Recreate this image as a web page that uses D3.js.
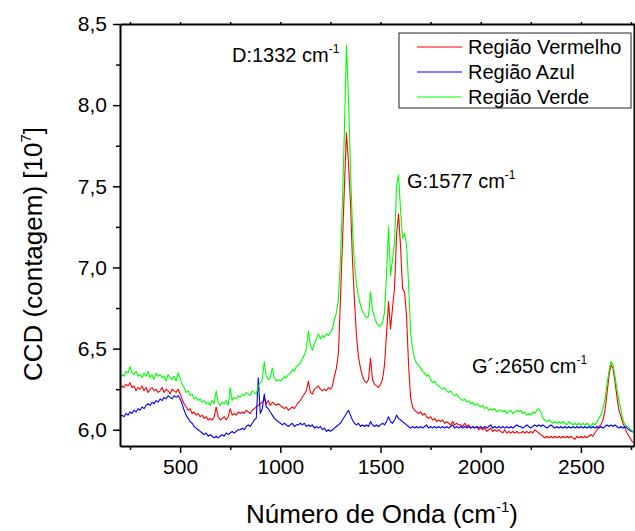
<!DOCTYPE html>
<html>
<head>
<meta charset="utf-8">
<script src="https://cdn.jsdelivr.net/npm/d3@7"></script>
<style>
  body { margin: 0; background: #fff; }
  svg { display: block; font-family: "Liberation Sans", Arial, sans-serif; }
</style>
</head>
<body>
<div id="viz"></div>
<script>
// Raman spectra, three regions of the sample (CCD counts in 10^7)

// sampling grid of the spectrometer, cm^-1 (200 .. 2760, step 10)
const wavenumbers = d3.range(200, 2770, 10);

// rows of 10 values = 100 cm^-1 each
const redValues = [
  6.25, 6.27, 6.26, 6.28, 6.27, 6.29, 6.26, 6.27, 6.24, 6.26,
  6.25, 6.27, 6.24, 6.26, 6.23, 6.25, 6.26, 6.24, 6.25, 6.23,
  6.24, 6.26, 6.23, 6.25, 6.24, 6.22, 6.25, 6.24, 6.23, 6.25,
  6.22, 6.19, 6.16, 6.14, 6.12, 6.13, 6.10, 6.11, 6.09, 6.10,
  6.08, 6.09, 6.07, 6.08, 6.06, 6.07, 6.06, 6.08, 6.14, 6.08,
  6.06, 6.07, 6.08, 6.06, 6.08, 6.13, 6.09, 6.10, 6.09, 6.11,
  6.10, 6.11, 6.10, 6.12, 6.11, 6.10, 6.12, 6.13, 6.14, 6.15,
  6.16, 6.17, 6.19, 6.16, 6.18, 6.15, 6.17, 6.16, 6.15, 6.16,
  6.15, 6.14, 6.13, 6.14, 6.12, 6.13, 6.14, 6.13, 6.15, 6.17,
  6.18, 6.20, 6.22, 6.24, 6.30, 6.23, 6.22, 6.25, 6.26, 6.27,
  6.25, 6.24, 6.25, 6.24, 6.26, 6.25, 6.27, 6.33, 6.38, 6.47,
  6.80, 7.15, 7.50, 7.83, 7.65, 7.40, 7.05, 6.80, 6.58, 6.45,
  6.38, 6.33, 6.30, 6.29, 6.31, 6.44, 6.31, 6.28, 6.27, 6.26,
  6.28, 6.31, 6.40, 6.59, 6.79, 6.62, 6.75, 6.87, 7.20, 7.33,
  7.13, 6.87, 6.85, 6.70, 6.40, 6.20, 6.14, 6.12, 6.11, 6.10,
  6.11, 6.09, 6.10, 6.08, 6.07, 6.08, 6.06, 6.07, 6.05, 6.06,
  6.05, 6.06, 6.04, 6.05, 6.04, 6.03, 6.05, 6.03, 6.04, 6.03,
  6.03, 6.02, 6.04, 6.02, 6.03, 6.01, 6.02, 6.01, 6.02, 6.00,
  6.01, 6.00, 6.01, 5.99, 6.00, 6.01, 5.99, 6.00, 5.99, 6.00,
  5.99, 5.98, 6.00, 5.98, 5.99, 5.98, 5.99, 5.98, 5.99, 5.98,
  5.98, 5.99, 5.98, 5.99, 5.98, 5.99, 5.98, 6.00, 5.99, 5.98,
  5.97, 5.96, 5.95, 5.96, 5.95, 5.96, 5.95, 5.96, 5.95, 5.96,
  5.95, 5.96, 5.95, 5.96, 5.95, 5.96, 5.95, 5.94, 5.96, 5.95,
  5.96, 5.95, 5.96, 5.95, 5.96, 5.97, 5.96, 5.98, 6.00, 6.02,
  6.03, 6.06, 6.12, 6.22, 6.33, 6.40, 6.38, 6.30, 6.20, 6.12,
  6.08, 6.04, 6.01, 5.98, 5.96, 5.94, 5.92
];

const blueValues = [
  6.08, 6.09, 6.08, 6.10, 6.09, 6.11, 6.10, 6.12, 6.11, 6.13,
  6.12, 6.14, 6.13, 6.15, 6.16, 6.15, 6.17, 6.16, 6.18, 6.17,
  6.19, 6.18, 6.20, 6.19, 6.21, 6.20, 6.19, 6.21, 6.20, 6.21,
  6.19, 6.16, 6.12, 6.09, 6.07, 6.05, 6.04, 6.02, 6.01, 6.00,
  5.99, 5.98, 5.97, 5.98, 5.96, 5.97, 5.96, 5.95, 5.96, 5.95,
  5.96, 5.97, 5.96, 5.98, 5.97, 5.98, 5.99, 5.98, 5.99, 6.00,
  6.00, 6.01, 6.00, 6.02, 6.03, 6.02, 6.04, 6.06, 6.07, 6.32,
  6.10, 6.13, 6.22, 6.14, 6.13, 6.11, 6.09, 6.07, 6.06, 6.05,
  6.04, 6.03, 6.04, 6.03, 6.02, 6.03, 6.04, 6.02, 6.03, 6.03,
  6.04, 6.03, 6.04, 6.02, 6.03, 6.02, 6.03, 6.01, 6.02, 6.01,
  6.02, 6.00, 6.01, 5.99, 6.00, 5.99, 6.00, 6.01, 6.02, 6.03,
  6.04, 6.06, 6.08, 6.10, 6.12, 6.09, 6.06, 6.04, 6.03, 6.04,
  6.02, 6.03, 6.02, 6.03, 6.02, 6.05, 6.03, 6.02, 6.03, 6.02,
  6.03, 6.04, 6.03, 6.05, 6.08, 6.05, 6.04, 6.06, 6.09, 6.07,
  6.06, 6.05, 6.04, 6.03, 6.02, 6.01, 6.02, 6.01, 6.02, 6.01,
  6.02, 6.01, 6.02, 6.03, 6.01, 6.02, 6.01, 6.02, 6.01, 6.02,
  6.01, 6.02, 6.01, 6.02, 6.01, 6.02, 6.03, 6.01, 6.02, 6.01,
  6.02, 6.01, 6.02, 6.01, 6.02, 6.01, 6.02, 6.01, 6.02, 6.01,
  6.02, 6.01, 6.02, 6.01, 6.02, 6.03, 6.01, 6.02, 6.01, 6.02,
  6.01, 6.02, 6.01, 6.02, 6.01, 6.02, 6.01, 6.02, 6.03, 6.02,
  6.02, 6.01, 6.02, 6.03, 6.02, 6.01, 6.02, 6.03, 6.02, 6.03,
  6.02, 6.03, 6.02, 6.01, 6.02, 6.03, 6.02, 6.01, 6.02, 6.01,
  6.02, 6.01, 6.02, 6.01, 6.02, 6.01, 6.02, 6.01, 6.02, 6.01,
  6.02, 6.01, 6.02, 6.01, 6.02, 6.01, 6.02, 6.01, 6.02, 6.01,
  6.02, 6.01, 6.02, 6.03, 6.02, 6.03, 6.02, 6.03, 6.02, 6.01,
  6.02, 6.01, 6.02, 6.01, 6.00, 5.99, 5.99
];

const greenValues = [
  6.31, 6.34, 6.33, 6.36, 6.35, 6.39, 6.35, 6.34, 6.36, 6.33,
  6.34, 6.32, 6.35, 6.33, 6.36, 6.32, 6.34, 6.31, 6.35, 6.33,
  6.34, 6.32, 6.33, 6.30, 6.34, 6.32, 6.31, 6.33, 6.30, 6.35,
  6.32, 6.28, 6.26, 6.23, 6.24, 6.21, 6.22, 6.19, 6.20, 6.18,
  6.19, 6.17, 6.18, 6.16, 6.17, 6.15, 6.18, 6.16, 6.24, 6.17,
  6.15, 6.17, 6.16, 6.18, 6.15, 6.26, 6.18, 6.20, 6.19, 6.21,
  6.20, 6.22, 6.21, 6.23, 6.22, 6.21, 6.24, 6.23, 6.22, 6.27,
  6.29, 6.31, 6.42, 6.33, 6.31, 6.32, 6.38, 6.32, 6.30, 6.31,
  6.30, 6.31, 6.33, 6.32, 6.34, 6.35, 6.37, 6.36, 6.39, 6.40,
  6.41, 6.44, 6.46, 6.50, 6.61, 6.52, 6.49, 6.53, 6.56, 6.59,
  6.56, 6.58, 6.57, 6.59, 6.58, 6.60, 6.62, 6.68, 6.72, 6.80,
  7.05, 7.40, 7.85, 8.37, 8.05, 7.62, 7.25, 7.02, 6.90, 6.82,
  6.77, 6.73, 6.71, 6.69, 6.70, 6.85, 6.74, 6.69, 6.66, 6.64,
  6.64, 6.66, 6.72, 6.95, 7.25, 6.95, 7.05, 7.15, 7.50, 7.57,
  7.35, 7.18, 7.21, 7.14, 6.90, 6.60, 6.50, 6.44, 6.41, 6.40,
  6.38, 6.36, 6.35, 6.33, 6.34, 6.31, 6.29, 6.30, 6.28, 6.27,
  6.26, 6.25, 6.26, 6.24, 6.23, 6.24, 6.22, 6.21, 6.22, 6.20,
  6.19, 6.18, 6.19, 6.17, 6.18, 6.16, 6.17, 6.15, 6.16, 6.15,
  6.14, 6.15, 6.13, 6.14, 6.12, 6.13, 6.12, 6.13, 6.11, 6.12,
  6.12, 6.11, 6.12, 6.10, 6.11, 6.12, 6.10, 6.11, 6.12, 6.11,
  6.12, 6.10, 6.11, 6.09, 6.10, 6.09, 6.11, 6.10, 6.12, 6.13,
  6.11, 6.07, 6.06, 6.05, 6.06, 6.05, 6.04, 6.05, 6.04, 6.05,
  6.04, 6.05, 6.04, 6.03, 6.05, 6.04, 6.03, 6.04, 6.03, 6.04,
  6.03, 6.04, 6.03, 6.04, 6.03, 6.02, 6.04, 6.03, 6.05, 6.07,
  6.09, 6.13, 6.19, 6.28, 6.36, 6.42, 6.40, 6.33, 6.25, 6.18,
  6.12, 6.06, 6.03, 6.02, 6.01, 6.00, 5.98
];

const seriesNames = ['Região Vermelho', 'Região Azul', 'Região Verde'];
const seriesColors = ['#ff0000', '#0000ff', '#00ff00'];
const seriesValues = [redValues, blueValues, greenValues];

const xMajorTicks = [500, 1000, 1500, 2000, 2500];
const xMinorTicks = [250, 750, 1250, 1750, 2250, 2750];
const yMajorTicks = [6.0, 6.5, 7.0, 7.5, 8.0, 8.5];
const yMinorTicks = [6.25, 6.75, 7.25, 7.75, 8.25];

const peakLabels = [
  { text: 'D:1332 cm', x: 232, y: 62 },
  { text: 'G:1577 cm', x: 407, y: 188 },
  { text: 'G´:2650 cm', x: 472, y: 373 }
];

const config = {
  width: 635,
  height: 531,
  left: 120,
  right: 634,
  top: 24,
  bottom: 446
};

const locale = d3.formatLocale({ decimal: ',', thousands: '.', grouping: [3], currency: ['', ''] });
const fmtY = locale.format('.1f');
const fmtX = d3.format('d');

const svg = d3.select('#viz').append('svg')
  .attr('width', config.width)
  .attr('height', config.height);

const x = d3.scaleLinear().domain([200, 2765]).range([config.left, config.right]);
const y = d3.scaleLinear().domain([5.9, 8.5]).range([config.bottom, config.top]);

svg.append('clipPath').attr('id', 'plotClip')
  .append('rect')
  .attr('x', config.left).attr('y', config.top)
  .attr('width', config.right - config.left)
  .attr('height', config.bottom - config.top);

// spectra
const line = d3.line()
  .x((d, i) => x(wavenumbers[i]))
  .y(d => y(d));

const lines = svg.append('g').attr('clip-path', 'url(#plotClip)');
seriesValues.forEach((vals, k) => {
  lines.append('path')
    .attr('d', line(vals))
    .attr('fill', 'none')
    .attr('stroke', seriesColors[k])
    .attr('stroke-width', 1.1)
    .attr('stroke-linejoin', 'round');
});

// axes
function styleAxis(g) {
  g.selectAll('path.domain').attr('stroke', '#000').attr('stroke-width', 2);
  g.selectAll('.tick line').attr('stroke', '#000').attr('stroke-width', 1.5);
  g.selectAll('text').attr('fill', '#000')
    .style('font-family', '"Liberation Sans", Arial, sans-serif')
    .style('font-size', '21px');
}

const xBottom = svg.append('g')
  .attr('transform', `translate(0,${config.bottom})`)
  .call(d3.axisBottom(x).tickValues(xMajorTicks).tickFormat(fmtX).tickSize(7).tickSizeOuter(0).tickPadding(6));
styleAxis(xBottom);
svg.append('g')
  .attr('transform', `translate(0,${config.bottom})`)
  .call(d3.axisBottom(x).tickValues(xMinorTicks).tickSize(4).tickFormat(''))
  .call(g => g.select('.domain').remove())
  .call(styleAxis);

const yLeft = svg.append('g')
  .attr('transform', `translate(${config.left},0)`)
  .call(d3.axisLeft(y).tickValues(yMajorTicks).tickFormat(fmtY).tickSize(7).tickSizeOuter(0).tickPadding(6));
styleAxis(yLeft);
svg.append('g')
  .attr('transform', `translate(${config.left},0)`)
  .call(d3.axisLeft(y).tickValues(yMinorTicks).tickSize(4).tickFormat(''))
  .call(g => g.select('.domain').remove())
  .call(styleAxis);

// frame: top and right axes without labels
svg.append('g')
  .attr('transform', `translate(0,${config.top})`)
  .call(d3.axisTop(x).tickValues(xMajorTicks.concat(xMinorTicks)).tickSize(2).tickSizeOuter(0).tickFormat(''))
  .call(styleAxis);
svg.append('g')
  .attr('transform', `translate(${config.right},0)`)
  .call(d3.axisRight(y).tickValues(yMajorTicks.concat(yMinorTicks)).tickSize(2).tickSizeOuter(0).tickFormat(''))
  .call(styleAxis);

// axis titles
const xTitle = svg.append('text')
  .attr('x', 382).attr('y', 523)
  .attr('text-anchor', 'middle')
  .style('font-size', '26px');
xTitle.append('tspan').text('Número de Onda (cm');
xTitle.append('tspan').attr('dy', -11).style('font-size', '15px').text('-1');
xTitle.append('tspan').attr('dy', 11).text(')');

const yTitle = svg.append('text')
  .attr('transform', 'translate(42,254) rotate(-90)')
  .attr('text-anchor', 'middle')
  .style('font-size', '26px');
yTitle.append('tspan').text('CCD (contagem) [10');
yTitle.append('tspan').attr('dy', -11).style('font-size', '15px').text('7');
yTitle.append('tspan').attr('dy', 11).text(']');

// peak annotations
peakLabels.forEach(p => {
  const t = svg.append('text').attr('x', p.x).attr('y', p.y).style('font-size', '20px');
  t.append('tspan').text(p.text);
  t.append('tspan').attr('dy', -9).style('font-size', '12px').text('-1');
});

// legend
const legend = svg.append('g').attr('transform', 'translate(399,33)');
legend.append('rect')
  .attr('width', 232).attr('height', 75)
  .attr('fill', '#fff')
  .attr('stroke', '#222')
  .attr('stroke-width', 1);
seriesNames.forEach((name, k) => {
  const row = legend.append('g').attr('transform', `translate(0,${14 + k * 25})`);
  row.append('line')
    .attr('x1', 18).attr('x2', 63)
    .attr('stroke', seriesColors[k]).attr('stroke-width', 1.2);
  row.append('text')
    .attr('x', 69).attr('y', 7)
    .style('font-size', '20px')
    .text(name);
});
</script>
</body>
</html>
